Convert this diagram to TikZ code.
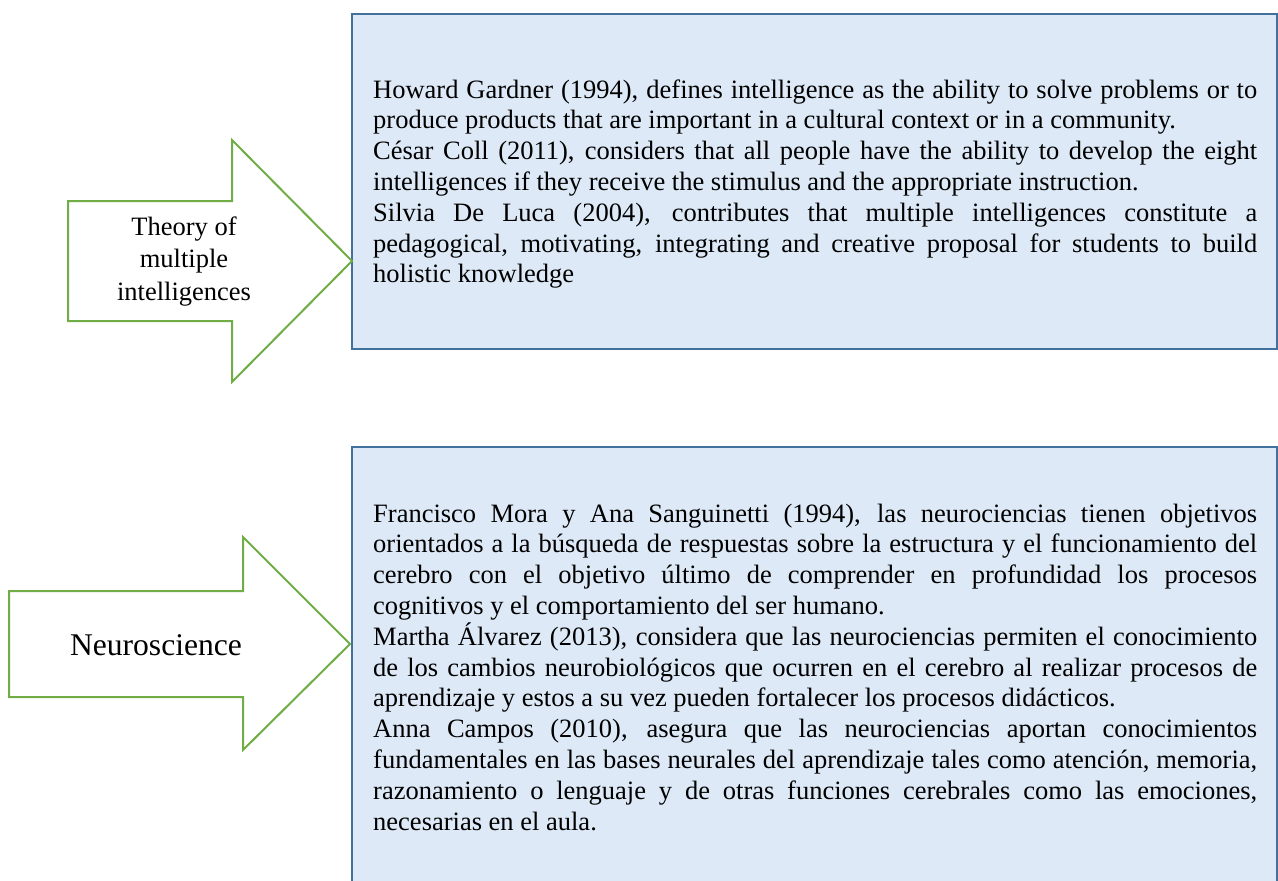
\documentclass[tikz,border=0pt]{standalone}
\usepackage{fontspec}
\setmainfont{Liberation Serif}
\definecolor{arrowgreen}{RGB}{112,173,71}
\definecolor{boxedge}{RGB}{65,113,156}
\definecolor{boxfill}{RGB}{221,233,246}
\tikzset{
  arrowshape/.style={draw=arrowgreen, line width=2pt, fill=white, line join=miter},
  infobox/.style={draw=boxedge, line width=2pt, fill=boxfill},
  boxtext/.style={anchor=north west, inner sep=0pt, text width=884pt, align=justify,
    font={\fontsize{26.5}{30.8}\selectfont\tolerance=10000\hbadness=10000\parindent=0pt}},
  arrowtext/.style={inner sep=0pt, align=center, font=\fontsize{26.5}{32.5}\selectfont}
}
\begin{document}
\begin{tikzpicture}[x=1pt,y=-1pt]
\useasboundingbox (0,0) rectangle (1278,881);
\clip (0,0) rectangle (1278,881);
% boxes
\draw[infobox] (352,14) rectangle (1277,349);
\draw[infobox] (352,447) rectangle (1277,900);
% arrows
\draw[arrowshape] (68,201) -- (232,201) -- (232,140) -- (352,261) -- (232,382) -- (232,321) -- (68,321) -- cycle;
\draw[arrowshape] (9,591) -- (243,591) -- (243,537) -- (350,644) -- (243,750) -- (243,697) -- (9,697) -- cycle;
% arrow labels
\node[arrowtext, anchor=north] (t1) at (184,212.2) {\strut Theory of\\multiple\\intelligences};
\node[arrowtext, anchor=base, font=\fontsize{31.6}{36}\selectfont] (t2) at (156,655) {Neuroscience};
% box texts
\node[boxtext] (b1) at (373,76.4) {\strut Howard Gardner (1994), defines intelligence as the ability to solve problems or to\linebreak
produce products that are important in a cultural context or in a community.\par
César Coll (2011), considers that all people have the ability to develop the eight\linebreak
intelligences if they receive the stimulus and the appropriate instruction.\par
Silvia De Luca (2004), contributes that multiple intelligences constitute a\linebreak
pedagogical, motivating, integrating and creative proposal for students to build\linebreak
holistic knowledge\par};
\node[boxtext] (b2) at (373,500.4) {\strut Francisco Mora y Ana Sanguinetti (1994), las neurociencias tienen objetivos\linebreak
orientados a la búsqueda de respuestas sobre la estructura y el funcionamiento del\linebreak
cerebro con el objetivo último de comprender en profundidad los procesos\linebreak
cognitivos y el comportamiento del ser humano.\par
Martha Álvarez (2013), considera que las neurociencias permiten el conocimiento\linebreak
de los cambios neurobiológicos que ocurren en el cerebro al realizar procesos de\linebreak
aprendizaje y estos a su vez pueden fortalecer los procesos didácticos.\par
Anna Campos (2010), asegura que las neurociencias aportan conocimientos\linebreak
fundamentales en las bases neurales del aprendizaje tales como atención, memoria,\linebreak
razonamiento o lenguaje y de otras funciones cerebrales como las emociones,\linebreak
necesarias en el aula.\par};
\end{tikzpicture}
\end{document}
